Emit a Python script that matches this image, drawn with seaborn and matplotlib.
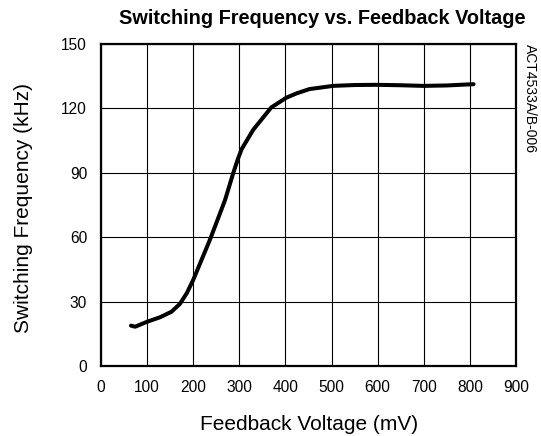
import matplotlib
matplotlib.use("Agg")
import matplotlib.pyplot as plt
import seaborn as sns
import pandas as pd

# curve
voltage_mv = [65, 74, 100, 128, 153, 171, 186, 200, 218, 236, 254, 269, 287, 297,
              305, 330, 369, 402, 424, 452, 503, 550, 598, 650, 699, 750, 808]
freq_khz = [18.8, 18.3, 20.6, 22.7, 25.3, 28.9, 33.9, 40.1, 49.4, 58.7, 68.8, 77.3,
            90.0, 96.5, 101.0, 110.0, 120.4, 125.0, 127.0, 129.0, 130.5, 130.9,
            131.0, 130.8, 130.5, 130.7, 131.3]
x_ticks = [0, 100, 200, 300, 400, 500, 600, 700, 800, 900]
y_ticks = [0, 30, 60, 90, 120, 150]

df = pd.DataFrame({"Feedback Voltage (mV)": voltage_mv,
                   "Switching Frequency (kHz)": freq_khz})

sns.set_theme(style="white")
plt.rcParams["font.family"] = ["Liberation Sans", "DejaVu Sans"]
plt.rcParams["text.color"] = "black"
plt.rcParams["axes.labelcolor"] = "black"

fig = plt.figure(figsize=(5.41, 4.36), dpi=100)
ax = fig.add_axes([0.1867, 0.1606, 0.767, 0.7384])
sns.lineplot(data=df, x="Feedback Voltage (mV)", y="Switching Frequency (kHz)",
             ax=ax, color="black", linewidth=2.9, zorder=3)

ax.set_xlim(0, 900)
ax.set_ylim(0, 150)
ax.set_xticks(x_ticks)
ax.set_yticks(y_ticks)
ax.grid(True, color="black", linewidth=0.8)
for s in ax.spines.values():
    s.set_color("black")
    s.set_linewidth(1.6)
ax.tick_params(labelsize=11.2, colors="black", length=0, pad=10)
ax.set_xlabel("Feedback Voltage (mV)", fontsize=15)
ax.set_ylabel("Switching Frequency (kHz)", fontsize=15)
ax.xaxis.set_label_coords(0.501, -0.152)
ax.yaxis.set_label_coords(-0.165, 0.49)
fig.text(0.596, 0.9587, "Switching Frequency vs. Feedback Voltage", fontsize=14.3,
         fontweight="bold", ha="center", va="center")
fig.text(0.98, 0.90, "ACT4533A/B-006", rotation=-90, fontsize=10,
         va="top", ha="center")

fig.savefig("out.png", dpi=100)
